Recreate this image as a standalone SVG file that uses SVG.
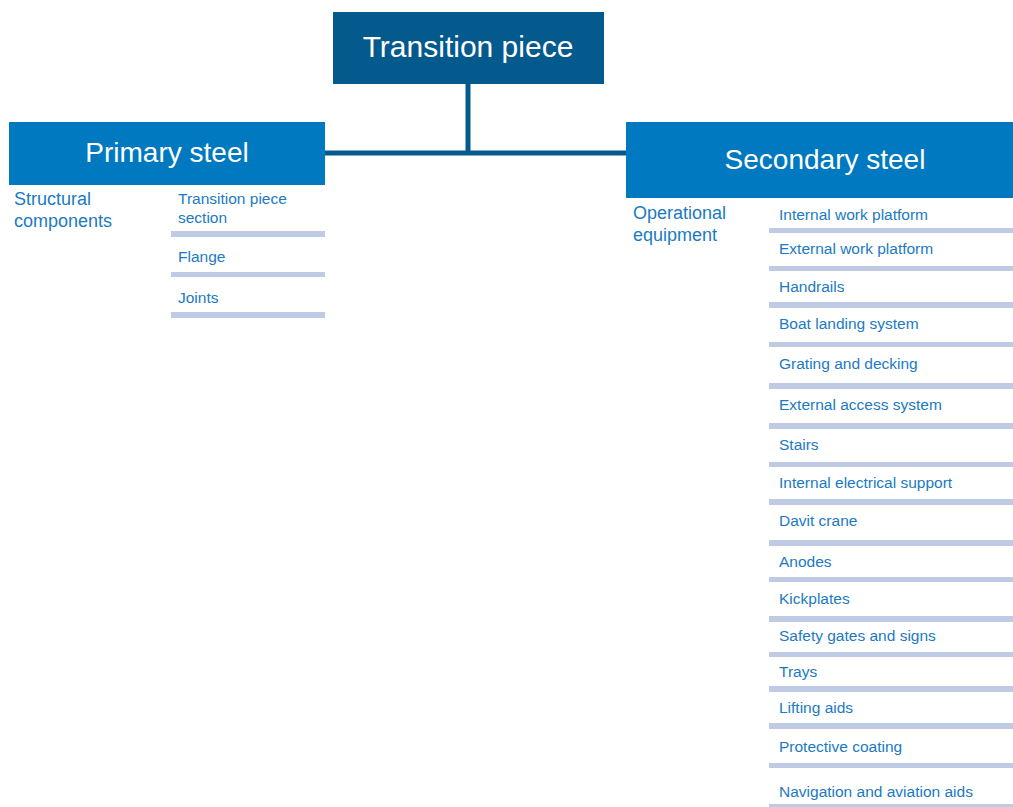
<svg xmlns="http://www.w3.org/2000/svg" width="1013" height="807" viewBox="0 0 1013 807">
<style>
.root{fill:#045a8d}
.head{fill:#0079c1}
.ht{fill:#ffffff;font-family:"Liberation Sans",Arial,sans-serif;text-anchor:middle}
.cat{fill:#1b7ac2;font-family:"Liberation Sans",Arial,sans-serif;font-size:18px}
.it{fill:#1b7ac2;font-family:"Liberation Sans",Arial,sans-serif;font-size:15.5px}
.bar{fill:#bfcbe4}
.conn{stroke:#045a8d;stroke-width:5;fill:none}
</style>
<rect width="1013" height="807" fill="#ffffff"/>
<g id="connectors">
<line class="conn" x1="468" y1="83" x2="468" y2="153"/>
<line class="conn" x1="325" y1="153" x2="627" y2="153"/>
</g>
<g id="transition-piece">
<rect class="root" x="333" y="12" width="271" height="72"/>
<text class="ht" x="468" y="57" font-size="30">Transition piece</text>
</g>
<g id="primary-steel">
<rect class="head" x="9" y="122" width="316" height="63"/>
<text class="ht" x="167" y="162" font-size="28">Primary steel</text>
<text class="cat" x="14" y="205">Structural</text>
<text class="cat" x="14" y="227">components</text>
<text class="it" x="178" y="204">Transition piece</text>
<text class="it" x="178" y="223">section</text>
<rect class="bar" x="171" y="231" width="154" height="6"/>
<text class="it" x="178" y="262">Flange</text>
<rect class="bar" x="171" y="272" width="154" height="5"/>
<text class="it" x="178" y="303">Joints</text>
<rect class="bar" x="171" y="312" width="154" height="6"/>
</g>
<g id="secondary-steel">
<rect class="head" x="626" y="122" width="387" height="76"/>
<text class="ht" x="825" y="169" font-size="28">Secondary steel</text>
<text class="cat" x="633" y="219">Operational</text>
<text class="cat" x="633" y="241">equipment</text>
<text class="it" x="779" y="220">Internal work platform</text>
<rect class="bar" x="769" y="228" width="244" height="5"/>
<text class="it" x="779" y="254">External work platform</text>
<rect class="bar" x="769" y="266" width="244" height="5"/>
<text class="it" x="779" y="292">Handrails</text>
<rect class="bar" x="769" y="302" width="244" height="6"/>
<text class="it" x="779" y="329">Boat landing system</text>
<rect class="bar" x="769" y="342" width="244" height="5"/>
<text class="it" x="779" y="369">Grating and decking</text>
<rect class="bar" x="769" y="383" width="244" height="6"/>
<text class="it" x="779" y="410">External access system</text>
<rect class="bar" x="769" y="423" width="244" height="6"/>
<text class="it" x="779" y="450">Stairs</text>
<rect class="bar" x="769" y="462" width="244" height="5"/>
<text class="it" x="779" y="488">Internal electrical support</text>
<rect class="bar" x="769" y="499" width="244" height="6"/>
<text class="it" x="779" y="526">Davit crane</text>
<rect class="bar" x="769" y="540" width="244" height="6"/>
<text class="it" x="779" y="567">Anodes</text>
<rect class="bar" x="769" y="577" width="244" height="5"/>
<text class="it" x="779" y="604">Kickplates</text>
<rect class="bar" x="769" y="616" width="244" height="6"/>
<text class="it" x="779" y="641">Safety gates and signs</text>
<rect class="bar" x="769" y="652" width="244" height="5"/>
<text class="it" x="779" y="677">Trays</text>
<rect class="bar" x="769" y="686" width="244" height="6"/>
<text class="it" x="779" y="713">Lifting aids</text>
<rect class="bar" x="769" y="723" width="244" height="6"/>
<text class="it" x="779" y="752">Protective coating</text>
<rect class="bar" x="769" y="763" width="244" height="5"/>
<text class="it" x="779" y="797">Navigation and aviation aids</text>
<rect class="bar" x="769" y="804" width="244" height="3"/>
</g>
</svg>
